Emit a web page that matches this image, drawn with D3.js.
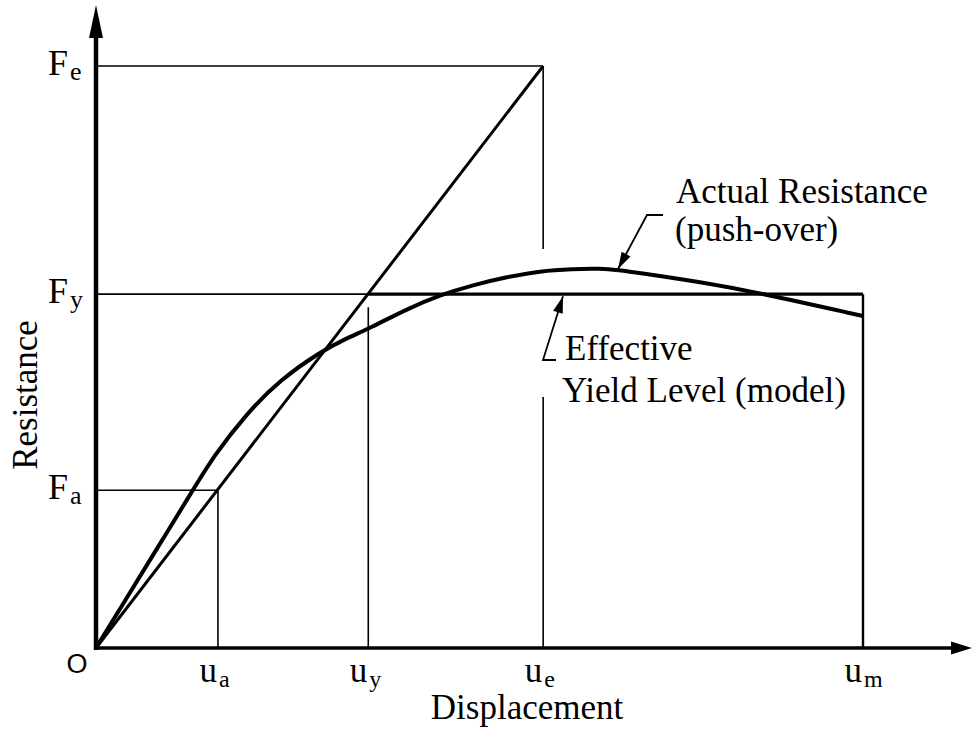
<!DOCTYPE html>
<html><head><meta charset="utf-8">
<script src="https://cdn.jsdelivr.net/npm/d3@7"></script>
<style>html,body{margin:0;padding:0;background:#fff;}svg{display:block;}</style>
</head><body>
<script>
// ---- data ----
const dispVals = [0, 3.52, 7.04, 12.65, 15.25, 19.69, 23.99, 29.20, 32.46, 35.72, 40.55, 44.85, 49.15, 53.59, 57.89, 62.19, 65.71, 68.06, 70.93, 78.75, 86.57, 100];
const resVals  = [0, 7.56, 15.12, 27.15, 32.82, 40.38, 46.05, 50.86, 53.09, 54.98, 58.25, 60.65, 62.37, 63.75, 64.78, 65.12, 65.20, 64.95, 64.43, 62.89, 61.0, 57.04];
const uNames = ["a", "y", "e", "m"];
const uVals  = [15.9, 35.5, 58.3, 100];
const fNames = ["a", "y", "e"];
const fVals  = [27.1, 60.8, 100];
const axisTitles = ["Displacement", "Resistance"];
const notes = ["Actual Resistance", "(push-over)", "Effective", "Yield Level (model)"];

const W = 974, H = 730;
const svg = d3.select("body").append("svg").attr("width", W).attr("height", H);
const x = d3.scaleLinear().domain([0, 100]).range([96, 863]);
const y = d3.scaleLinear().domain([0, 100]).range([648, 66]);
const FONT = "'Liberation Serif','DejaVu Serif',serif";

const ua = uVals[0], uy = uVals[1], ue = uVals[2], um = uVals[3];
const Fa = fVals[0], Fy = fVals[1], Fe = fVals[2];

const line = (x1, y1, x2, y2, w) => svg.append("line")
  .attr("x1", x1).attr("y1", y1).attr("x2", x2).attr("y2", y2)
  .attr("stroke", "#000").attr("stroke-width", w);

// thin reference lines
line(x(0), y(Fe), x(ue), y(Fe), 1.6);
line(x(0), y(Fy), x(uy), y(Fy), 1.6);
line(x(0), y(Fa), x(ua), y(Fa), 1.6);
line(x(ua), y(Fa), x(ua), y(0), 1.6);
line(x(uy), y(Fy) + 13, x(uy), y(0), 1.6);
line(x(ue), y(Fe), x(ue), 249, 1.6);
line(x(ue), 397, x(ue), y(0), 1.6);

// elastic line
line(x(0), y(0), x(ue), y(Fe), 3);
// bilinear model
line(x(uy), y(Fy), x(um), y(Fy), 3.2);
line(x(um), y(Fy), x(um), y(0), 2.4);

// actual resistance curve
const pts = dispVals.map((d, i) => [d, resVals[i]]);
svg.append("path").datum(pts)
  .attr("d", d3.line().x(d => x(d[0])).y(d => y(d[1])).curve(d3.curveBasis))
  .attr("fill", "none").attr("stroke", "#000").attr("stroke-width", 4).attr("stroke-linejoin", "round");

// axes with arrows
svg.append("line").attr("x1", x(0)).attr("y1", y(0) + 2).attr("x2", x(0)).attr("y2", 30)
  .attr("stroke", "#000").attr("stroke-width", 4.5);
svg.append("path").attr("d", `M${x(0)},5 L${x(0) - 7},38 L${x(0) + 7},38 Z`).attr("fill", "#000");
svg.append("line").attr("x1", x(0) - 2).attr("y1", y(0)).attr("x2", 955).attr("y2", y(0))
  .attr("stroke", "#000").attr("stroke-width", 3.5);
svg.append("path").attr("d", `M972,${y(0)} L951,${y(0) - 6.5} L951,${y(0) + 6.5} Z`).attr("fill", "#000");

// tick labels
const xl = svg.append("g").attr("font-family", FONT);
uVals.forEach((v, i) => {
  xl.append("text").attr("x", x(v) - 1).attr("y", 682).attr("text-anchor", "end")
    .attr("font-size", 35).text("u");
  xl.append("text").attr("x", x(v) + 1).attr("y", 687).attr("text-anchor", "start")
    .attr("font-size", 24).text(uNames[i]);
});
fVals.forEach((v, i) => {
  xl.append("text").attr("x", 68).attr("y", y(v) + 9).attr("text-anchor", "end")
    .attr("font-size", 36).text("F");
  xl.append("text").attr("x", 70).attr("y", y(v) + 14).attr("text-anchor", "start")
    .attr("font-size", 26).text(fNames[i]);
});
xl.append("text").attr("x", 77).attr("y", 673).attr("text-anchor", "middle")
  .attr("font-size", 27).attr("font-family", "'Liberation Sans',sans-serif").text("O");

// axis titles
xl.append("text").attr("x", 527).attr("y", 719).attr("text-anchor", "middle")
  .attr("font-size", 35).text(axisTitles[0]);
xl.append("text").attr("transform", "translate(37,395) rotate(-90)").attr("text-anchor", "middle")
  .attr("font-size", 35).text(axisTitles[1]);

// annotations
xl.append("text").attr("x", 676).attr("y", 203).attr("font-size", 35).text(notes[0]);
xl.append("text").attr("x", 675).attr("y", 241).attr("font-size", 35).text(notes[1]);
xl.append("text").attr("x", 565).attr("y", 360).attr("font-size", 35).text(notes[2]);
xl.append("text").attr("x", 562).attr("y", 402).attr("font-size", 35).text(notes[3]);

function leader(hx, hy, cx, cy, tx, ty) {
  svg.append("path").attr("d", `M${hx},${hy} L${cx},${cy} L${tx},${ty}`)
    .attr("fill", "none").attr("stroke", "#000").attr("stroke-width", 1.8);
  const ang = Math.atan2(ty - cy, tx - cx);
  const L = 17, Wd = 5;
  const bx = tx - L * Math.cos(ang), by = ty - L * Math.sin(ang);
  const px = -Math.sin(ang) * Wd, py = Math.cos(ang) * Wd;
  svg.append("path").attr("d", `M${tx},${ty} L${bx + px},${by + py} L${bx - px},${by - py} Z`).attr("fill", "#000");
}
// Actual resistance leader -> point on curve
leader(663, 215, 647, 215, x(dispVals[17]), y(resVals[17]) - 1);
// Effective yield leader -> bilinear plateau
leader(556, 360, 543, 360, 563, y(Fy) + 2);
</script>
</body></html>
